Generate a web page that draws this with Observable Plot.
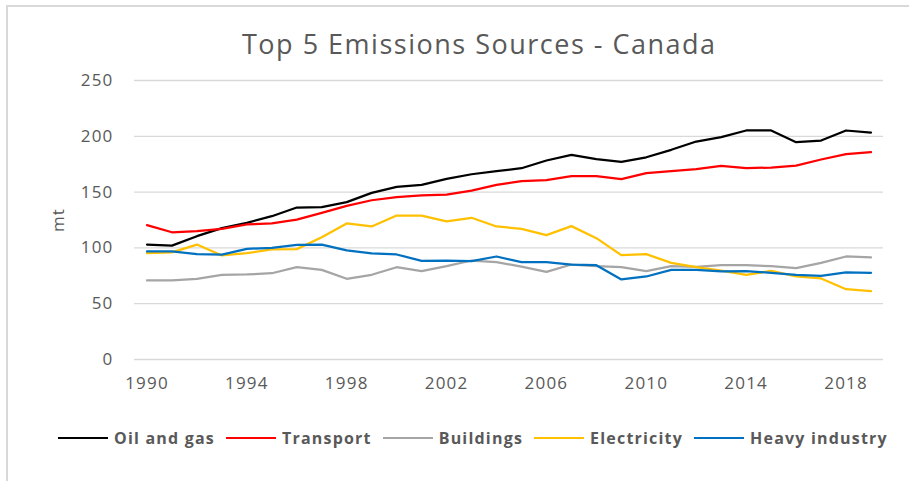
<!DOCTYPE html>
<html>
<head>
<meta charset="utf-8">
<script src="https://cdn.jsdelivr.net/npm/d3@7"></script>
<script src="https://cdn.jsdelivr.net/npm/@observablehq/plot@0.6"></script>
<style>
  html, body { margin: 0; padding: 0; background: #fff; }
  #wrap { position: relative; width: 909px; height: 481px; overflow: hidden; background: #fff; font-family: "Open Sans", sans-serif; color: #595959; }
  #frame { position: absolute; left: 6px; top: 5px; width: 960px; height: 520px; border-top: 2px solid #d9d9d9; border-left: 2px solid #d9d9d9; }
  #title { position: absolute; left: 242px; top: 30px; font-size: 27px; line-height: 1; letter-spacing: 1.5px; white-space: nowrap; color: #595959; }
  #chart { position: absolute; left: 0; top: 60px; }
  #chart svg text { letter-spacing: 1.2px; }
  #ylabel { position: absolute; left: 57px; top: 220px; transform: translate(-50%, -50%) rotate(-90deg); font-size: 17px; letter-spacing: 1px; white-space: nowrap; }
  #legend { position: absolute; left: 58px; top: 427px; display: flex; align-items: center; height: 22px; font-weight: bold; font-size: 16px; letter-spacing: 1.2px; white-space: nowrap; }
  .item { display: flex; align-items: center; margin-right: 11px; }
  .sw { width: 50px; height: 2px; margin-right: 6px; }
</style>
</head>
<body>
<div id="wrap">
  <div id="frame"></div>
  <div id="title"></div>
  <div id="ylabel"></div>
  <div id="chart"></div>
  <div id="legend"></div>
</div>
<script>
const titleText = "Top 5 Emissions Sources - Canada";
const yLabel = "mt";
const years = d3.range(1990, 2020);
const seriesNames = ["Oil and gas", "Transport", "Buildings", "Electricity", "Heavy industry"];
const seriesColors = ["#000000", "#ff0000", "#a5a5a5", "#ffc000", "#0070c0"];
const xTicks = [1990, 1994, 1998, 2002, 2006, 2010, 2014, 2018];
const yTicks = [0, 50, 100, 150, 200, 250];

const oilAndGas = [103, 102, 110.5, 117.7, 122.5, 128.4, 136.2, 136.5, 141, 149.3, 154.7, 156.5, 161.9, 166, 168.7, 171.4, 178.3, 183.4, 179.5, 177, 181.2, 187.9, 195.3, 199.2, 205.2, 205.2, 194.7, 196.2, 205.2, 203.4];
const transport = [120.4, 114, 115, 117, 121, 122, 125.4, 131.4, 137.7, 142.7, 145.5, 147, 147.8, 151.4, 156.5, 159.8, 160.7, 164.3, 164.3, 161.7, 167, 168.7, 170.5, 173.5, 171.4, 172, 173.8, 179.2, 184, 185.8];
const buildings = [70.8, 70.8, 72.3, 75.9, 76.2, 77.3, 82.7, 80.3, 72.3, 75.9, 82.7, 79.1, 83.6, 88.7, 87.2, 83.3, 78.5, 85.1, 83.6, 82.7, 79.1, 83.6, 83, 84.5, 84.5, 83.6, 81.8, 86.6, 92.3, 91.4];
const electricity = [95.3, 96, 103, 93.2, 95.3, 98.6, 98.9, 109.6, 121.9, 119.2, 129, 129, 123.7, 127, 119.2, 117.1, 111.4, 119.5, 108.7, 93.5, 94.4, 86.6, 82.7, 79.7, 75.9, 79.4, 74.4, 72.6, 63, 61.2];
const heavyIndustry = [96.8, 96.8, 94.4, 94, 99.2, 100, 102.7, 103, 97.7, 95.2, 94.1, 88.4, 88.7, 88.1, 92.3, 87.2, 87.2, 85.1, 84.5, 71.7, 74.4, 80.3, 80.3, 78.9, 79.1, 77.7, 75.9, 75, 78, 77.7];

const seriesValues = [oilAndGas, transport, buildings, electricity, heavyIndustry];
const data = [];
seriesNames.forEach((name, i) => {
  years.forEach((yr, j) => data.push({series: name, year: yr, value: seriesValues[i][j]}));
});

document.getElementById("title").textContent = titleText;
document.getElementById("ylabel").textContent = yLabel;

const chart = Plot.plot({
  width: 909,
  height: 340,
  marginTop: 20,
  marginBottom: 41,
  marginLeft: 134,
  marginRight: 26,
  style: {fontFamily: "Open Sans, sans-serif", fontSize: "17px", color: "#595959", background: "transparent", overflow: "visible"},
  x: {domain: [1989.5, 2019.5], ticks: xTicks, tickFormat: d => String(d), tickSize: 0, tickPadding: 17, label: null},
  y: {domain: [0, 250], ticks: yTicks, tickSize: 0, tickPadding: 21, label: null},
  color: {domain: seriesNames, range: seriesColors},
  marks: [
    Plot.ruleY(yTicks, {stroke: "#d9d9d9", strokeWidth: 1.3}),
    Plot.line(data, {x: "year", y: "value", z: "series", stroke: "series", strokeWidth: 2.25, strokeLinejoin: "round", strokeLinecap: "round"})
  ]
});
document.getElementById("chart").appendChild(chart);

const legend = document.getElementById("legend");
seriesNames.forEach((name, i) => {
  const item = document.createElement("div");
  item.className = "item";
  const sw = document.createElement("div");
  sw.className = "sw";
  sw.style.background = seriesColors[i];
  const label = document.createElement("span");
  label.textContent = name;
  item.appendChild(sw);
  item.appendChild(label);
  legend.appendChild(item);
});
</script>
</body>
</html>
